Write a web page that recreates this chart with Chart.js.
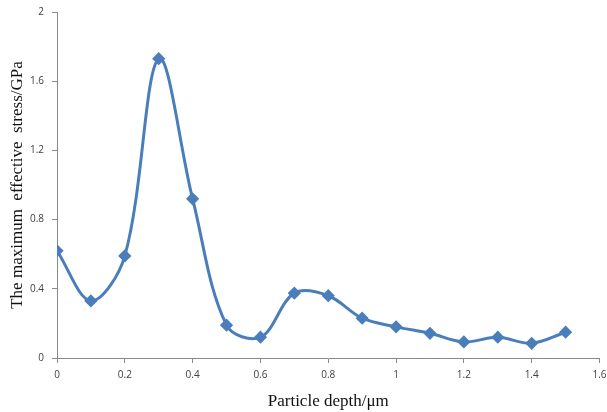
<!DOCTYPE html>
<html><head><meta charset="utf-8">
<script src="https://cdn.jsdelivr.net/npm/chart.js@4/dist/chart.umd.min.js"></script>
<style>html,body{margin:0;padding:0;background:#fff}#wrap{width:607px;height:412px}</style>
</head><body><div id="wrap"><canvas id="c" width="607" height="412"></canvas></div>
<script>
const depths = [0, 0.1, 0.2, 0.3, 0.4, 0.5, 0.6, 0.7, 0.8, 0.9, 1.0, 1.1, 1.2, 1.3, 1.4, 1.5];
const stress = [0.62, 0.33, 0.59, 1.73, 0.92, 0.19, 0.12, 0.375, 0.36, 0.23, 0.18, 0.143, 0.093, 0.12, 0.085, 0.149];
const xTitle = 'Particle depth/\u03bcm';
const yTitle = 'The maximum  effective  stress/GPa';

const pts = depths.map((d, i) => ({x: d, y: stress[i]}));
const axisCol = '#8a8a8a';
const tickFont = {family: 'Open Sans', size: 10};
const titleFont = {family: 'Liberation Serif', size: 17};
const fmt = v => String(+v.toFixed(2));

new Chart(document.getElementById('c'), {
  type: 'line',
  data: {datasets: [{
    data: pts,
    borderColor: '#4a7ebb',
    backgroundColor: '#4a7ebb',
    borderWidth: 3,
    tension: 0.35,
    pointStyle: 'rectRot',
    pointRadius: 4.5,
    pointHoverRadius: 4.5,
    fill: false
  }]},
  options: {
    responsive: false,
    animation: false,
    layout: {padding: {top: 12, right: 7, left: 0, bottom: 0}},
    plugins: {legend: {display: false}, tooltip: {enabled: false}},
    scales: {
      x: {
        type: 'linear', min: 0, max: 1.6,
        ticks: {stepSize: 0.2, color: '#404040', font: tickFont, padding: 6, maxRotation: 0, callback: fmt},
        grid: {display: true, drawOnChartArea: false, drawTicks: true, tickLength: 5, color: axisCol},
        border: {color: axisCol, width: 1},
        title: {display: true, text: xTitle, color: '#111', font: titleFont, padding: {top: 5, bottom: 0}},
        afterFit: s => { s.height = 54; s.paddingRight = 0; s.paddingLeft = 0; }
      },
      y: {
        type: 'linear', min: 0, max: 2,
        ticks: {stepSize: 0.4, color: '#404040', font: tickFont, padding: 8, callback: fmt},
        grid: {display: true, drawOnChartArea: false, drawTicks: true, tickLength: 5, color: axisCol},
        border: {color: axisCol, width: 1},
        title: {display: true, text: yTitle, color: '#111', font: titleFont, padding: {top: 7, bottom: 0}},
        afterFit: s => { s.width = 57; s.paddingTop = 0; s.paddingBottom = 0; }
      }
    }
  }
});
</script></body></html>
